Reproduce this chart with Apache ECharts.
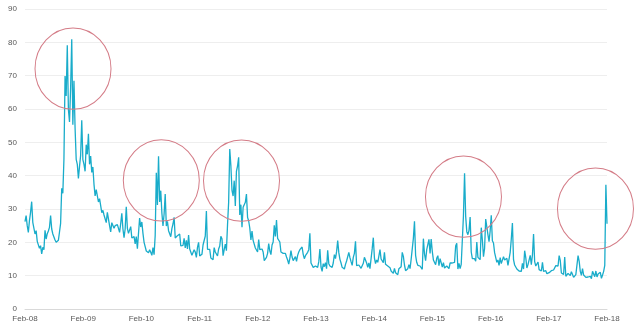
<!DOCTYPE html>
<html>
<head>
<meta charset="utf-8">
<script src="https://cdn.jsdelivr.net/npm/echarts@6/dist/echarts.min.js"></script>
<style>
html,body{margin:0;padding:0;background:#fff;}
#chart{width:640px;height:333px;}
</style>
</head>
<body>
<div id="chart"></div>
<script>
// X-axis tick labels (one per year, Feb 2008 .. Feb 2018)
const tickLabels = ['Feb-08','Feb-09','Feb-10','Feb-11','Feb-12','Feb-13','Feb-14','Feb-15','Feb-16','Feb-17','Feb-18'];

// Weekly VIX readings, grouped by year starting in Feb
const vixY1 = [26.2,28.0,25.0,23.0,26.5,29.0,32.2,26.0,25.7,22.5,23.5,20.3,20.0,18.2,19.0,16.5,18.5,17.8,23.6,21.0,22.6,23.4,24.5,28.0,24.0,22.5,22.6,20.7,20.0,19.8,20.6,23.1,25.7,36.2,34.7,45.1,69.9,63.9,79.1,59.9,56.1,66.3,80.9,55.3,68.5,54.3,44.9,43.4,39.2,42.8,46.1,56.6];
const vixY2 = [44.8,43.4,41.3,49.3,46.4,52.6,43.4,45.9,41.0,42.6,37.4,33.9,35.8,35.3,32.1,33.1,32.6,28.9,29.6,28.2,27.9,25.9,29.0,29.0,25.0,23.1,25.9,25.4,24.2,25.0,24.8,25.3,24.2,23.0,25.6,28.7,24.0,21.4,24.0,30.7,24.2,22.7,22.2,24.7,21.3,21.6,21.7,19.5,21.7,18.1,17.9,27.3];
const vixY3 = [24.6,26.1,22.7,20.0,19.5,17.4,17.6,16.9,17.8,17.0,16.1,18.4,16.3,22.1,40.9,31.2,45.8,32.1,35.5,28.8,24.9,28.5,34.5,24.9,26.3,23.5,23.5,21.7,24.1,25.5,27.5,21.3,21.2,22.0,21.7,22.5,18.9,19.1,19.1,21.2,18.3,20.6,18.0,22.2,18.0,17.6,16.1,16.5,17.8,17.1,15.5,18.5];
const vixY4 = [20.0,15.9,15.7,16.4,19.2,19.1,21.9,29.4,17.9,17.4,17.9,15.3,14.7,14.8,18.4,17.1,17.4,15.9,18.0,18.9,21.8,21.1,16.0,15.9,19.5,17.5,25.3,32.0,48.0,43.0,35.6,33.9,38.5,30.9,41.3,42.9,45.5,28.2,31.3,24.5,30.5,30.0,32.0,34.5,27.5,26.4,24.3,20.7,23.4,20.6,20.9,18.3];
const vixY5 = [18.5,17.1,20.8,17.8,17.3,18.0,17.1,14.5,14.8,15.5,16.7,19.6,17.4,16.3,19.2,20.1,25.1,21.8,26.7,21.2,21.1,20.1,17.1,17.1,16.7,16.3,16.7,15.6,14.7,13.5,15.2,17.5,15.6,14.5,13.9,15.7,14.3,16.1,17.1,17.8,17.6,18.6,16.4,15.1,16.0,16.6,17.0,17.8,22.7,13.8,13.4,12.5];
const vixY6 = [12.9,12.9,13.0,12.5,14.2,18.0,12.6,11.3,13.6,12.7,13.9,12.1,17.6,13.6,12.9,12.6,12.5,13.8,16.3,15.1,17.2,20.5,16.9,14.9,13.8,12.5,12.7,12.0,13.4,14.4,14.8,17.0,15.4,14.2,13.1,15.5,16.7,20.3,13.0,13.1,13.2,12.9,12.2,12.3,13.7,15.5,15.8,13.8,12.5,13.8,12.1,12.4];
const vixY7 = [18.1,21.4,15.3,13.6,14.7,14.0,14.1,17.8,15.0,14.4,13.9,17.0,13.4,13.3,12.9,12.9,12.4,11.4,11.4,10.7,12.2,10.9,11.3,10.3,12.1,12.1,12.7,17.0,15.8,13.2,11.5,12.0,12.1,13.3,12.1,14.9,14.6,21.2,26.3,16.1,14.0,13.1,13.3,12.9,13.3,11.9,21.1,16.5,14.5,17.8,17.6,20.9];
const vixY8 = [16.7,21.0,17.3,14.7,14.3,13.3,15.2,16.0,13.0,15.1,14.7,12.6,13.9,12.3,12.7,12.9,12.4,12.1,13.8,14.2,13.8,14.0,14.0,18.9,19.7,12.0,13.7,12.1,13.4,12.8,28.0,40.7,27.8,23.2,22.3,23.6,27.6,17.1,15.1,14.5,15.1,14.3,20.1,15.5,15.1,14.8,24.4,20.7,15.7,18.2,27.0,27.6];
const vixY9 = [22.3,20.2,23.4,28.1,20.5,19.8,16.9,16.5,14.0,14.7,13.1,15.4,13.6,13.2,15.7,14.7,14.4,15.2,13.1,13.5,17.0,21.0,25.8,14.8,13.2,12.7,12.0,12.0,11.4,11.6,11.3,13.7,12.0,17.5,15.4,12.3,13.3,13.5,16.1,13.3,16.2,22.5,14.2,12.9,12.3,14.1,11.8,12.2,11.4,14.0,11.3,11.2];
const vixY10 = [11.5,10.6,11.0,10.9,11.5,11.5,11.0,11.7,11.3,13.0,12.4,12.9,16.0,14.6,10.8,10.6,10.4,15.6,9.8,9.8,10.7,10.4,10.0,11.2,11.2,9.5,9.4,10.3,10.0,16.0,14.3,11.3,10.1,12.1,10.2,9.6,9.5,9.7,9.6,10.0,9.8,9.1,11.3,11.4,9.7,11.4,9.6,10.5,9.9,11.0,9.2,10.2,11.3,13.1,37.3,25.6];

// Red ellipse annotations: centre (years after Feb-08, value)
const circleX = [0.825, 2.342, 3.72, 7.534, 9.802];
const circleY = [72.1, 38.6, 38.5, 33.7, 30.1];

const values = [].concat(vixY1, vixY2, vixY3, vixY4, vixY5, vixY6, vixY7, vixY8, vixY9, vixY10);
const n = values.length;
const seriesData = values.map((v, i) => [i * 10 / (n - 1), v]);

const chart = echarts.init(document.getElementById('chart'), null, {renderer: 'canvas'});
const font = "'Liberation Sans', Arial, sans-serif";

chart.setOption({
  animation: false,
  backgroundColor: '#ffffff',
  grid: {left: 25, right: 33, top: 9, bottom: 24, containLabel: false},
  xAxis: {
    type: 'value',
    min: 0, max: 10, interval: 1,
    axisLine: {show: true, lineStyle: {color: '#d9d9d9', width: 1}},
    axisTick: {show: false},
    splitLine: {show: false},
    axisLabel: {
      color: '#595959', fontSize: 8, fontFamily: font, margin: 6,
      formatter: v => tickLabels[Math.round(v)] || ''
    }
  },
  yAxis: {
    type: 'value',
    min: 0, max: 90, interval: 10,
    axisLine: {show: false},
    axisTick: {show: false},
    splitLine: {show: true, lineStyle: {color: '#eeeeee', width: 1}},
    axisLabel: {color: '#595959', fontSize: 8, fontFamily: font, margin: 8}
  },
  series: [{
    type: 'line',
    data: seriesData,
    showSymbol: false,
    symbol: 'none',
    lineStyle: {color: '#19acca', width: 1.3},
    z: 3
  }]
});

const graphics = circleX.map((cx, k) => {
  const p = chart.convertToPixel({gridIndex: 0}, [cx, circleY[k]]);
  return {
    type: 'circle',
    x: p[0], y: p[1],
    scaleY: 1.07,
    shape: {cx: 0, cy: 0, r: 38},
    style: {fill: 'none', stroke: '#d47c87', lineWidth: 1},
    z: 10
  };
});
chart.setOption({graphic: graphics});
</script>
</body>
</html>
